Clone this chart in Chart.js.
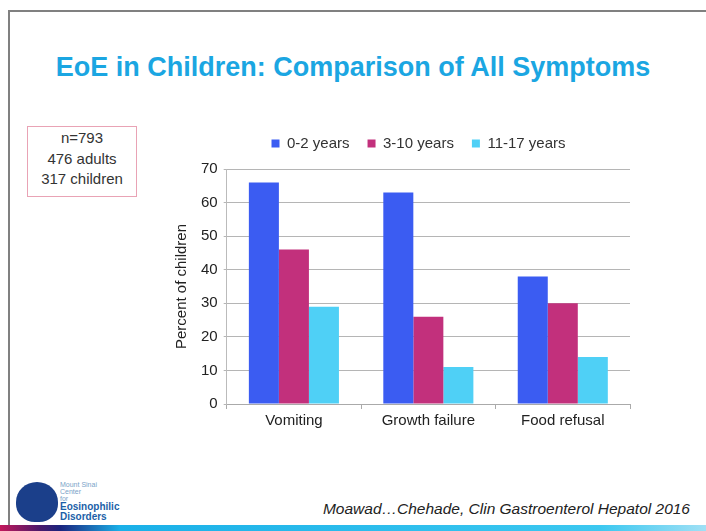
<!DOCTYPE html>
<html lang="en">
<head>
<meta charset="UTF-8">
<title>EoE in Children</title>
<script src="https://cdn.jsdelivr.net/npm/chart.js@4/dist/chart.umd.min.js"></script>
<style>
    body{
        margin: 0;
        width: 706px;
        height: 531px;
        background: #fff;
        overflow: hidden;
        position: relative;
        font-family: "Liberation Sans", Arial, sans-serif;
    }
    .slide{
        position: absolute;
        left: 8px;
        top: 10px;
        width: 720px;
        height: 540px;
        border-left: 2px solid #808080;
        border-top: 2px solid #808080;
    }
    .title{
        position: absolute;
        left: 0;
        width: 706px;
        top: 52px;
        text-align: center;
        color: #1ba6e2;
        font-weight: bold;
        font-size: 27px;
    }
    .nbox{
        position: absolute;
        left: 27px;
        top: 126px;
        width: 110px;
        height: 71px;
        border: 1px solid #e9a3b5;
        text-align: center;
        font-size: 15px;
        line-height: 20.5px;
        color: #333;
        padding-top: 1px;
        box-sizing: border-box;
    }
    .chartbox{
        position: absolute;
        left: 169px;
        top: 118px;
        width: 471px;
        height: 315px;
    }
    .cite{
        position: absolute;
        right: 16px;
        top: 500px;
        font-style: italic;
        font-size: 15.5px;
        color: #222;
    }
    .stripe{
        position: absolute;
        left: 0;
        top: 525px;
        width: 706px;
        height: 6px;
        background: linear-gradient(to right, #c2185b 0px, #4a1a6b 40px, #1a237e 60px, #1ab0e8 120px, #3cc8f0 600px, #a0e0f5 706px);
    }
    .logo{
        position: absolute;
        left: 16px;
        top: 482px;
        width: 42px;
        height: 40px;
        border-radius: 50% 50% 45% 45%;
        background: #1b3f8a;
    }
    .logotext{
        position: absolute;
        left: 60px;
        top: 481px;
        font-size: 7px;
        line-height: 7px;
        color: #7aa3c8;
    }
    .logotext b{
        color: #1b5fa8;
        font-size: 10px;
        line-height: 10px;
    }
</style>
</head>
<body>
<div class="slide"></div>
<div class="title">EoE in Children: Comparison of All Symptoms</div>
<div class="nbox">n=793<br>476 adults<br>317 children</div>
<div class="chartbox"><canvas id="chart"></canvas></div>
<div class="logo"></div>
<div class="logotext">Mount Sinai<br>Center<br>for<br><b>Eosinophilic<br>Disorders</b></div>
<div class="cite">Moawad…Chehade, Clin Gastroenterol Hepatol 2016</div>
<div class="stripe"></div>
<script>
const categories = ["Vomiting", "Growth failure", "Food refusal"];
const seriesNames = ["0-2 years", "3-10 years", "11-17 years"];
const age0to2 = [66, 63, 38];
const age3to10 = [46, 26, 30];
const age11to17 = [29, 11, 14];
const yTicks = [0, 10, 20, 30, 40, 50, 60, 70];

const colors = ["#3b5cf2", "#c2307c", "#4fd0f6"];
const values = [age0to2, age3to10, age11to17];

// extra space below the legend, and legend nudged right over the plot
const legendTweak = {
    id: "legendTweak",
    beforeInit(chart) {
        const lg = chart.legend;
        const fit = lg.fit;
        lg.fit = function () {
            fit.bind(lg)();
            this.height += 8;
        };
        const draw = lg.draw;
        lg.draw = function () {
            const ctx = chart.ctx;
            ctx.save();
            ctx.translate(19, 0);
            draw.bind(lg)();
            ctx.restore();
        };
    }
};

new Chart(document.getElementById("chart"), {
    type: "bar",
    data: {
        labels: categories,
        datasets: seriesNames.map((name, i) => ({
            label: name,
            data: values[i],
            backgroundColor: colors[i],
            borderWidth: 0,
            categoryPercentage: 0.67,
            barPercentage: 1.0
        }))
    },
    options: {
        responsive: true,
        maintainAspectRatio: false,
        animation: false,
        layout: {padding: {right: 10}},
        plugins: {
            legend: {
                position: "top",
                labels: {
                    boxWidth: 8,
                    boxHeight: 8,
                    padding: 18,
                    color: "#333",
                    font: {family: "Liberation Sans", size: 15}
                }
            },
            tooltip: {enabled: false}
        },
        scales: {
            x: {
                grid: {display: true, drawOnChartArea: false, drawTicks: true, tickLength: 5, color: "#aaa"},
                border: {color: "#aaa"},
                ticks: {color: "#222", font: {family: "Liberation Sans", size: 15}}
            },
            y: {
                min: 0,
                max: 70,
                afterBuildTicks: (axis) => { axis.ticks = yTicks.map(v => ({value: v})); },
                grid: {color: "#b5b5b5", drawTicks: true, tickLength: 3},
                border: {display: true, color: "#bbb"},
                ticks: {color: "#222", padding: 6, font: {family: "Liberation Sans", size: 15}},
                title: {
                    display: true,
                    text: "Percent of children",
                    color: "#222",
                    font: {family: "Liberation Sans", size: 15}
                }
            }
        }
    },
    plugins: [legendTweak]
});
</script>
</body>
</html>
